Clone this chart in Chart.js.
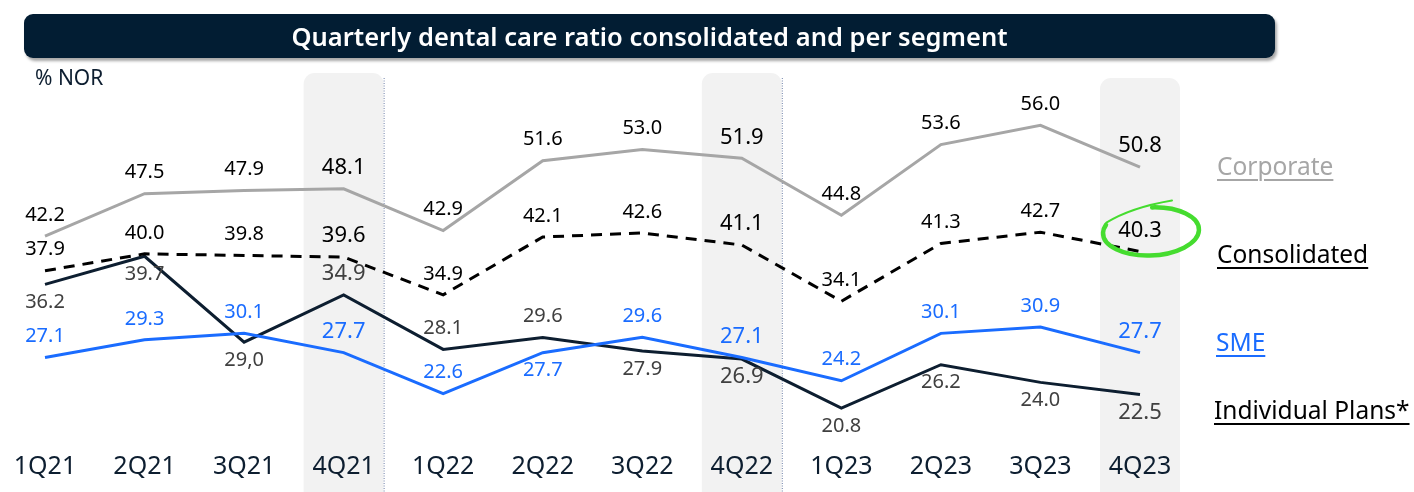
<!DOCTYPE html>
<html>
<head>
<meta charset="utf-8">
<script src="https://cdn.jsdelivr.net/npm/chart.js@4.4.1/dist/chart.umd.min.js"></script>
<style>
  html, body { margin:0; padding:0; background:#fff; width:1414px; height:492px; overflow:hidden; font-family:"Noto Sans", sans-serif; }
  #wrap { position:relative; width:1414px; height:492px; }
  #c { position:absolute; left:0; top:0; }
  .title { position:absolute; left:24px; top:14px; width:1251px; height:44px; background:#021d33; border-radius:9px;
           box-shadow:2px 3px 3px rgba(0,0,0,0.35); color:#fff; font-size:25.5px; font-weight:600; line-height:44px; text-align:center; }
  .unit { position:absolute; left:35px; top:62px; font-size:21px; line-height:30px; color:#0d1e30; }
  .leg { position:absolute; font-size:24.5px; text-decoration:underline; text-underline-offset:4px; text-decoration-thickness:2px; white-space:nowrap; line-height:30px; }
</style>
</head>
<body>
<div id="wrap">
  <canvas id="c" width="1414" height="492"></canvas>
  <div class="title">Quarterly dental care ratio consolidated and per segment</div>
  <div class="unit">% NOR</div>
  <div class="leg" style="left:1217px; top:151px; color:#a6a6a6;">Corporate</div>
  <div class="leg" style="left:1217px; top:239px; color:#000;">Consolidated</div>
  <div class="leg" style="left:1216px; top:327px; color:#1a6cff;">SME</div>
  <div class="leg" style="left:1214px; top:395px; color:#000;">Individual Plans*</div>
</div>
<script>
const quarters = ['1Q21','2Q21','3Q21','4Q21','1Q22','2Q22','3Q22','4Q22','1Q23','2Q23','3Q23','4Q23'];
const corporate    = [42.2, 47.5, 47.9, 48.1, 42.9, 51.6, 53.0, 51.9, 44.8, 53.6, 56.0, 50.8];
const consolidated = [37.9, 40.0, 39.8, 39.6, 34.9, 42.1, 42.6, 41.1, 34.1, 41.3, 42.7, 40.3];
const sme          = [27.1, 29.3, 30.1, 27.7, 22.6, 27.7, 29.6, 27.1, 24.2, 30.1, 30.9, 27.7];
const individual   = [36.2, 39.7, 29.0, 34.9, 28.1, 29.6, 27.9, 26.9, 20.8, 26.2, 24.0, 22.5];
const individualText = ['36.2','39.7','29,0','34.9','28.1','29.6','27.9','26.9','20.8','26.2','24.0','22.5'];
const highlighted = ['4Q21','4Q22','4Q23'];

// label placement per point: 'a' above, 'b' below
const corpPos  = ['a','a','a','a','a','a','a','a','a','a','a','a'];
const consPos  = ['a','a','a','a','a','a','a','a','a','a','a','a'];
const smePos   = ['a','a','a','a','a','b','a','a','a','a','a','a'];
const indPos   = ['b','b','b','a','a','a','b','b','b','b','b','b'];

const FONT = '"Noto Sans", sans-serif';

const bgPlugin = {
  id:'bg',
  beforeDraw(chart){
    const ctx = chart.ctx, x = chart.scales.x;
    ctx.save();
    highlighted.forEach((q, k) => {
      const cx = x.getPixelForValue(quarters.indexOf(q));
      const top = k === 2 ? 78 : 73, w = 80, r = 11;
      ctx.fillStyle = '#f2f2f2';
      ctx.beginPath();
      ctx.roundRect(cx - w/2, top, w, 492 - top + 12, r);
      ctx.fill();
      if (k < 2) {
        ctx.strokeStyle = '#6f80a8';
        ctx.lineWidth = 1;
        ctx.setLineDash([1,1.5]);
        ctx.beginPath();
        ctx.moveTo(cx + w/2 + 0.5, 78);
        ctx.lineTo(cx + w/2 + 0.5, 492);
        ctx.stroke();
        ctx.setLineDash([]);
      }
    });
    ctx.restore();
  }
};

const labelPlugin = {
  id:'lbl',
  afterDatasetsDraw(chart){
    const ctx = chart.ctx;
    ctx.save();
    ctx.textAlign = 'center';
    ctx.textBaseline = 'middle';
    chart.data.datasets.forEach((ds, di) => {
      const meta = chart.getDatasetMeta(di);
      meta.data.forEach((pt, i) => {
        const big = highlighted.includes(quarters[i]);
        ctx.font = (big ? 22 : 20) + 'px ' + FONT;
        ctx.fillStyle = ds.lblColor;
        const txt = ds.lblText ? ds.lblText[i] : ds.data[i].toFixed(1);
        const dy = ds.lblPos[i] === 'a' ? -21 : 18;
        ctx.fillText(txt, pt.x, pt.y + dy);
      });
    });
    // green highlight circle around last consolidated value
    const m = chart.getDatasetMeta(1).data[11];
    const cx = m.x + 11, cy = m.y - 20;
    ctx.strokeStyle = '#45dc2f';
    ctx.lineCap = 'round';
    ctx.lineWidth = 4.5;
    ctx.beginPath();
    ctx.ellipse(cx, cy, 48, 24, -0.05, -Math.PI/2 + 0.05, Math.PI * 1.12);
    ctx.stroke();
    const a = Math.PI * 1.12;
    const sx = cx + 48*Math.cos(a), sy = cy + 24*Math.sin(a);
    ctx.lineWidth = 2;
    ctx.beginPath();
    ctx.moveTo(sx, sy);
    ctx.quadraticCurveTo(cx - 20, cy - 24, cx + 21, cy - 31);
    ctx.stroke();
    ctx.restore();
  }
};

new Chart(document.getElementById('c'), {
  type:'line',
  data:{
    labels: quarters,
    datasets:[
      { data: corporate, borderColor:'#a6a6a6', borderWidth:3, lblColor:'#000', lblPos: corpPos },
      { data: consolidated, borderColor:'#000', borderWidth:3, borderDash:[11,8], lblColor:'#000', lblPos: consPos },
      { data: sme, borderColor:'#1a6cff', borderWidth:3, lblColor:'#1a6cff', lblPos: smePos },
      { data: individual, borderColor:'#0d1e30', borderWidth:3, lblColor:'#404040', lblPos: indPos, lblText: individualText }
    ]
  },
  options:{
    responsive:false,
    devicePixelRatio:1,
    animation:false,
    events:[],
    layout:{ padding:{ left:45, right:274, top:80, bottom:2.6 } },
    elements:{ point:{ radius:0 }, line:{ tension:0, borderJoinStyle:'miter' } },
    plugins:{ legend:{ display:false }, tooltip:{ enabled:false } },
    scales:{
      x:{
        offset:false,
        grid:{ display:false, drawTicks:false },
        border:{ display:false },
        ticks:{ font:{ family:FONT, size:25 }, color:'#0d1e30', padding:8, maxRotation:0, autoSkip:false }
      },
      y:{ display:false, min:16.4, max:61.65 }
    }
  },
  plugins:[bgPlugin, labelPlugin]
});
</script>
</body>
</html>
